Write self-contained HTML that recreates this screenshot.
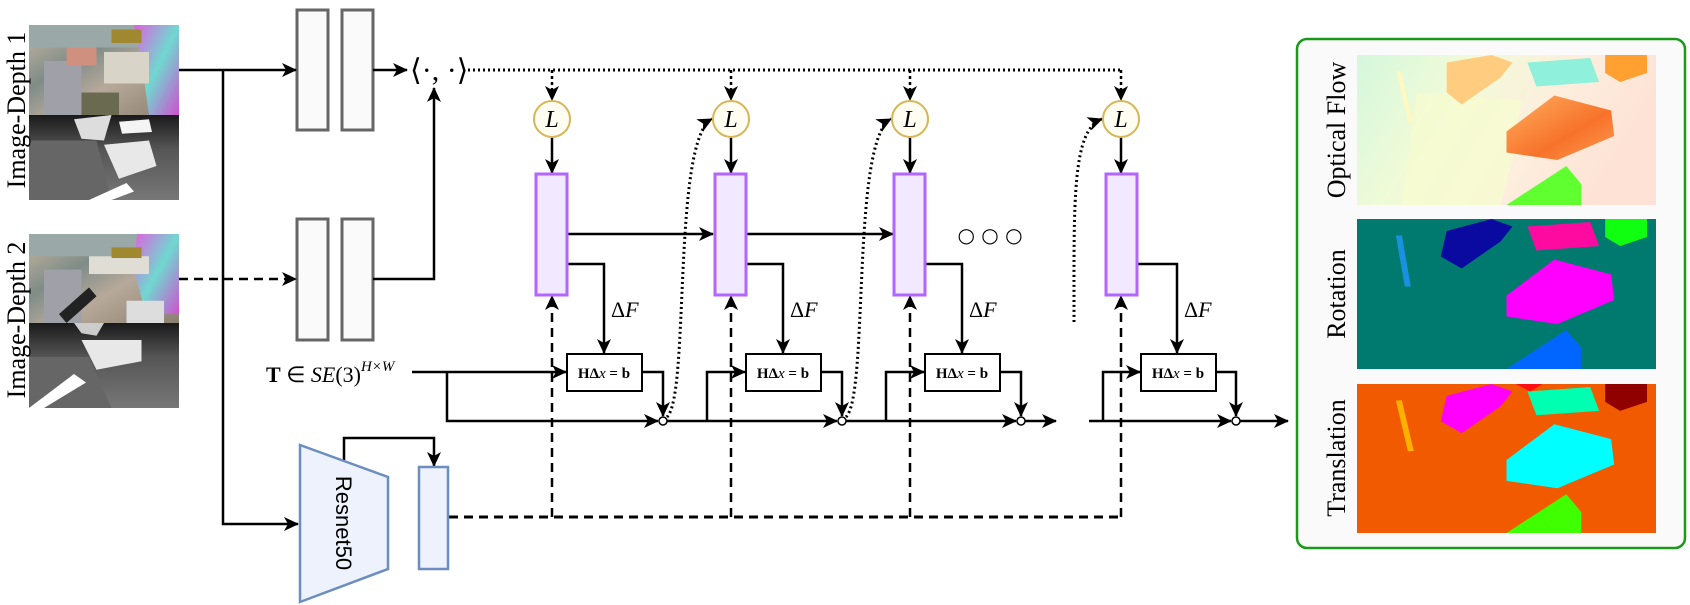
<!DOCTYPE html>
<html><head><meta charset="utf-8"><style>
html,body{margin:0;padding:0;background:#fff;}
svg{display:block;}
.s{font-family:"Liberation Serif",serif;}
</style></head><body>
<svg width="1690" height="605" viewBox="0 0 1690 605" xmlns="http://www.w3.org/2000/svg">
<defs>
<marker id="a" markerUnits="userSpaceOnUse" markerWidth="16" markerHeight="14" refX="14" refY="7" orient="auto">
<path d="M0,0 L15,7 L0,14 L4,7 z" fill="#000"/>
</marker>
<linearGradient id="rgb1" x1="0" y1="0" x2="1" y2="1">
<stop offset="0" stop-color="#c9b8a0"/><stop offset="0.35" stop-color="#7f8c88"/><stop offset="0.6" stop-color="#b7a99a"/><stop offset="1" stop-color="#8a7f70"/></linearGradient>
<linearGradient id="iri" x1="0" y1="0" x2="1" y2="1">
<stop offset="0" stop-color="#e060e0"/><stop offset="0.5" stop-color="#70d8d0"/><stop offset="1" stop-color="#d050d0"/></linearGradient>
<linearGradient id="dep" x1="0" y1="0" x2="0" y2="1">
<stop offset="0" stop-color="#1a1a1a"/><stop offset="0.4" stop-color="#555"/><stop offset="1" stop-color="#777"/></linearGradient>
<linearGradient id="flow" x1="0" y1="0" x2="1" y2="0.3">
<stop offset="0" stop-color="#d4f7dc"/><stop offset="0.35" stop-color="#f0fbd8"/><stop offset="0.7" stop-color="#fdeedd"/><stop offset="1" stop-color="#fde2d5"/></linearGradient>
<linearGradient id="org" x1="0" y1="0" x2="1" y2="1">
<stop offset="0" stop-color="#ffb060"/><stop offset="0.6" stop-color="#f7722a"/><stop offset="1" stop-color="#ff9a50"/></linearGradient>
</defs>

<svg x="29" y="25" width="150" height="90" viewBox="0 0 100 100" preserveAspectRatio="none">
<rect width="100" height="100" fill="url(#rgb1)"/>
<rect x="0" y="0" width="100" height="25" fill="#9aa8a8"/>
<path d="M70,0 L100,0 L100,100 L80,100 L75,40 Z" fill="url(#iri)"/>
<rect x="50" y="30" width="30" height="35" fill="#d8d4c8"/>
<rect x="55" y="5" width="20" height="15" fill="#a08830"/>
<rect x="10" y="40" width="25" height="60" fill="#a0a0a8"/>
<rect x="35" y="75" width="25" height="25" fill="#6a6a50"/>
<rect x="25" y="25" width="20" height="20" fill="#d09080"/>
</svg>
<svg x="29" y="115" width="150" height="85" viewBox="0 0 100 100" preserveAspectRatio="none">
<rect width="100" height="100" fill="url(#dep)"/>
<path d="M0,30 L45,30 L55,100 L0,100Z" fill="#666"/>
<path d="M50,35 L80,30 L85,60 L60,75 Z" fill="#e8e8e8"/>
<path d="M30,5 L55,0 L50,30 L35,28 Z" fill="#ddd"/>
<path d="M60,8 L80,5 L82,20 L62,22Z" fill="#f4f4f4"/>
<path d="M40,100 L65,80 L70,90 L55,100Z" fill="#fff"/>
</svg>
<svg x="29" y="234" width="150" height="89" viewBox="0 0 100 100" preserveAspectRatio="none">
<rect width="100" height="100" fill="url(#rgb1)"/>
<rect x="0" y="0" width="100" height="25" fill="#9aa8a8"/>
<path d="M72,0 L100,0 L100,90 L78,90 L70,40 Z" fill="url(#iri)"/>
<rect x="40" y="25" width="40" height="20" fill="#e0ddd5"/>
<rect x="55" y="15" width="20" height="12" fill="#a08830"/>
<rect x="10" y="40" width="25" height="60" fill="#a0a0a8"/>
<path d="M20,90 L40,60 L45,70 L25,100Z" fill="#222"/>
<rect x="65" y="75" width="25" height="25" fill="#ddd"/>
</svg>
<svg x="29" y="323" width="150" height="85" viewBox="0 0 100 100" preserveAspectRatio="none">
<rect width="100" height="100" fill="url(#dep)"/>
<path d="M0,40 L40,40 L55,100 L0,100Z" fill="#666"/>
<path d="M35,20 L75,20 L75,45 L45,55 Z" fill="#e8e8e8"/>
<path d="M30,0 L50,0 L45,15 L35,12Z" fill="#ccc"/>
<path d="M0,100 L30,60 L38,70 L10,100Z" fill="#fff"/>
</svg>
<text class="s" transform="translate(25,110) rotate(-90)" text-anchor="middle" font-size="26">Image-Depth 1</text>
<text class="s" transform="translate(25,320) rotate(-90)" text-anchor="middle" font-size="26">Image-Depth 2</text>

<g fill="#fafafa" stroke="#666" stroke-width="3">
<rect x="297" y="10" width="31" height="120"/><rect x="342" y="10" width="31" height="120"/>
<rect x="297" y="219" width="31" height="121"/><rect x="342" y="219" width="31" height="121"/>
</g>

<g stroke="#000" stroke-width="2.5" fill="none">
<path d="M179,70 L296,70" marker-end="url(#a)"/>
<path d="M223,70 L223,524 L298,524" marker-end="url(#a)"/>
<path d="M179,279 L296,279" stroke-dasharray="9 6" marker-end="url(#a)"/>
<path d="M373,70 L407,70" marker-end="url(#a)"/>
<path d="M373,279 L434,279 L434,88" marker-end="url(#a)"/>
<path d="M463,70 L1121,70" stroke-width="3" stroke-dasharray="2 3"/>
<path d="M552,70 L552,100" stroke-dasharray="3 3" marker-end="url(#a)"/>
<path d="M731,70 L731,100" stroke-dasharray="3 3" marker-end="url(#a)"/>
<path d="M910,70 L910,100" stroke-dasharray="3 3" marker-end="url(#a)"/>
<path d="M1121,70 L1121,100" stroke-dasharray="3 3" marker-end="url(#a)"/>
<path d="M552,137 L552,173" marker-end="url(#a)"/>
<path d="M731,137 L731,173" marker-end="url(#a)"/>
<path d="M910,137 L910,173" marker-end="url(#a)"/>
<path d="M1121,137 L1121,173" marker-end="url(#a)"/>
<path d="M567,234 L713,234" marker-end="url(#a)"/>
<path d="M746,234 L893,234" marker-end="url(#a)"/>
<path d="M567,264 L604,264 L604,353" marker-end="url(#a)"/>
<path d="M746,264 L783,264 L783,353" marker-end="url(#a)"/>
<path d="M925,264 L962,264 L962,353" marker-end="url(#a)"/>
<path d="M1137,264 L1177,264 L1177,353" marker-end="url(#a)"/>
<path d="M642,372 L663,372 L663,416" marker-end="url(#a)"/>
<path d="M821,372 L842,372 L842,416" marker-end="url(#a)"/>
<path d="M1000,372 L1021,372 L1021,416" marker-end="url(#a)"/>
<path d="M1215,372 L1236,372 L1236,416" marker-end="url(#a)"/>
<path d="M412,372 L566,372" marker-end="url(#a)"/>
<path d="M447,372 L447,421 L658,421" marker-end="url(#a)"/>
<path d="M667,421 L837,421" marker-end="url(#a)"/>
<path d="M707,421 L707,372 L745,372" marker-end="url(#a)"/>
<path d="M846,421 L1016,421" marker-end="url(#a)"/>
<path d="M886,421 L886,372 L924,372" marker-end="url(#a)"/>
<path d="M1025,421 L1056,421" marker-end="url(#a)"/>
<path d="M1089,421 L1231,421" marker-end="url(#a)"/>
<path d="M1103,421 L1103,372 L1140,372" marker-end="url(#a)"/>
<path d="M1240,421 L1288,421" marker-end="url(#a)"/>
<path d="M667,417 C690,395 672,140 712,119" stroke-width="3" stroke-dasharray="2 3" marker-end="url(#a)"/>
<path d="M846,417 C869,395 851,140 891,119" stroke-width="3" stroke-dasharray="2 3" marker-end="url(#a)"/>
<path d="M1074,322 C1074,200 1072,130 1102,119" stroke-width="3" stroke-dasharray="2 3" marker-end="url(#a)"/>
<path d="M449,517 L1121,517" stroke-width="3" stroke-dasharray="9 6"/>
<path d="M552,517 L552,296" stroke-dasharray="9 6" marker-end="url(#a)"/>
<path d="M731,517 L731,296" stroke-dasharray="9 6" marker-end="url(#a)"/>
<path d="M910,517 L910,296" stroke-dasharray="9 6" marker-end="url(#a)"/>
<path d="M1121,517 L1121,296" stroke-dasharray="9 6" marker-end="url(#a)"/>
<path d="M344,460 L344,438 L434,438 L434,466" marker-end="url(#a)"/>
</g>

<g fill="#fff" stroke="#000" stroke-width="1.5">
<circle cx="663" cy="421" r="4"/><circle cx="842" cy="421" r="4"/><circle cx="1021" cy="421" r="4"/><circle cx="1236" cy="421" r="4"/>
</g>

<g fill="#fffdf2" stroke="#d6b656" stroke-width="2">
<circle cx="552" cy="119" r="18"/><circle cx="731" cy="119" r="18"/><circle cx="910" cy="119" r="18"/><circle cx="1121" cy="119" r="18"/>
</g>
<g class="s" font-size="24" font-style="italic" text-anchor="middle">
<text x="552" y="127">L</text><text x="731" y="127">L</text><text x="910" y="127">L</text><text x="1121" y="127">L</text>
</g>

<g fill="#f2e8ff" stroke="#b266ff" stroke-width="3">
<rect x="536" y="174" width="31" height="121"/><rect x="715" y="174" width="31" height="121"/>
<rect x="894" y="174" width="31" height="121"/><rect x="1106" y="174" width="31" height="121"/>
</g>
<text x="990" y="242" font-size="20" text-anchor="middle" style="font-family:'DejaVu Sans',sans-serif">○ ○ ○</text>

<g fill="#fff" stroke="#000" stroke-width="2">
<rect x="567" y="354" width="75" height="37"/><rect x="746" y="354" width="75" height="37"/>
<rect x="925" y="354" width="75" height="37"/><rect x="1141" y="354" width="75" height="37"/>
</g>
<g class="s" font-size="15" font-weight="bold" text-anchor="middle">
<text x="604" y="378">HΔ<tspan font-style="italic" font-weight="normal">x</tspan> = b</text>
<text x="783" y="378">HΔ<tspan font-style="italic" font-weight="normal">x</tspan> = b</text>
<text x="962" y="378">HΔ<tspan font-style="italic" font-weight="normal">x</tspan> = b</text>
<text x="1178" y="378">HΔ<tspan font-style="italic" font-weight="normal">x</tspan> = b</text>
</g>
<g class="s" font-size="22">
<text x="611" y="317">Δ<tspan font-style="italic">F</tspan></text>
<text x="790" y="317">Δ<tspan font-style="italic">F</tspan></text>
<text x="969" y="317">Δ<tspan font-style="italic">F</tspan></text>
<text x="1184" y="317">Δ<tspan font-style="italic">F</tspan></text>
</g>
<text class="s" x="410" y="80" font-size="30">⟨·, ·⟩</text>
<text class="s" x="266" y="382" font-size="22"><tspan font-weight="bold">T</tspan> ∈ <tspan font-style="italic">SE</tspan>(3)<tspan font-size="15" dy="-11" font-style="italic">H×W</tspan></text>

<path d="M300,445 L388,477 L388,569 L300,602 Z" fill="#edf2fc" stroke="#6c8ebf" stroke-width="2.5"/>
<text transform="translate(336,523) rotate(90)" text-anchor="middle" font-size="22" style="font-family:'Liberation Sans',sans-serif">Resnet50</text>
<rect x="419" y="467" width="29" height="102" fill="#edf2fc" stroke="#6c8ebf" stroke-width="2.5"/>

<rect x="1297" y="39" width="388" height="509" rx="10" fill="#fafafa" stroke="#1a991a" stroke-width="2.5"/>
<svg x="1357" y="55" width="299" height="150" viewBox="0 0 100 100" preserveAspectRatio="none">
<rect width="100" height="100" fill="url(#flow)"/>
<path d="M20,25 L55,30 L52,70 L48,100 L15,100Z" fill="#f6fbd0" opacity="0.8"/>
<path d="M66,27 L85,37 L86,54 L67,70 L50,65 L50,51Z" fill="url(#org)"/>
<path d="M57,5 L78,2 L81,18 L60,21Z" fill="#8ff0dc"/>
<path d="M30,5 L45,0 L52,5 L48,15 L35,33 L30,25Z" fill="#ffcc80"/>
<path d="M83,0 L97,0 L97,12 L88,18 L83,12Z" fill="#ffa030"/>
<path d="M50,100 L70,74 L75,86 L75,100Z" fill="#60ff30"/>
<path d="M14,11 L18,45" stroke="#fff8c0" stroke-width="1.5"/>
</svg>
<svg x="1357" y="219" width="299" height="150" viewBox="0 0 100 100" preserveAspectRatio="none">
<rect width="100" height="100" fill="#007a6e"/>
<path d="M66,27 L85,37 L86,54 L67,70 L50,65 L50,51Z" fill="#ff00ff"/>
<path d="M57,5 L78,2 L81,18 L60,21Z" fill="#ff0aa0"/>
<path d="M30,8 L45,0 L52,5 L48,15 L35,33 L28,25Z" fill="#0a0aa0"/>
<path d="M83,0 L97,0 L97,12 L88,18 L83,12Z" fill="#10ff10"/>
<path d="M50,100 L70,74 L75,86 L75,100Z" fill="#0066ff"/>
<path d="M14,11 L17,45" stroke="#1a90e0" stroke-width="2"/>
</svg>
<svg x="1357" y="384" width="299" height="149" viewBox="0 0 100 100" preserveAspectRatio="none">
<rect width="100" height="100" fill="#f25a00"/>
<path d="M66,27 L85,37 L86,54 L67,70 L50,65 L50,51Z" fill="#00ffff"/>
<path d="M57,5 L78,2 L81,18 L60,21Z" fill="#00ffb0"/>
<path d="M30,8 L45,0 L52,5 L48,15 L35,33 L28,25Z" fill="#ff00ff"/>
<path d="M83,0 L97,0 L97,12 L88,18 L83,12Z" fill="#900000"/>
<path d="M53,0 L62,0 L58,5Z" fill="#ff1010"/>
<path d="M50,100 L70,74 L75,86 L75,100Z" fill="#40ff00"/>
<path d="M14,11 L18,45" stroke="#ffb000" stroke-width="2"/>
</svg>
<g class="s" font-size="26" text-anchor="middle">
<text transform="translate(1345,130) rotate(-90)">Optical Flow</text>
<text transform="translate(1345,294) rotate(-90)">Rotation</text>
<text transform="translate(1345,458) rotate(-90)">Translation</text>
</g>
</svg>
</body></html>
